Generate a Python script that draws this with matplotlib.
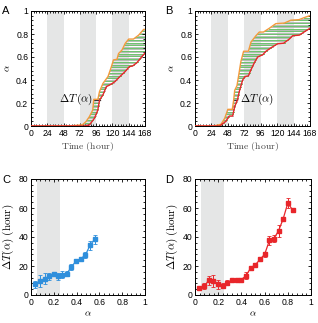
import numpy as np
import matplotlib
matplotlib.use("Agg")
import matplotlib.pyplot as plt
from matplotlib.ticker import MultipleLocator, FuncFormatter

plt.rcParams['font.family'] = ['Liberation Sans', 'DejaVu Sans']
plt.rcParams['mathtext.fontset'] = 'cm'

# ---- Data ----
# Panel A
a_orange_t = [0, 55, 72, 76, 81, 86, 91, 92.5, 98.5, 101, 106, 113.5, 118.5, 121.5, 126.7, 129, 134, 139, 144, 151, 158.6, 166, 168]
a_orange_y = [0, 0, 0.008, 0.012, 0.038, 0.081, 0.139, 0.232, 0.232, 0.30, 0.37, 0.43, 0.516, 0.575, 0.58, 0.63, 0.66, 0.72, 0.756, 0.756, 0.79, 0.84, 0.84]
a_red_t = [0, 78.5, 86, 93.5, 98.5, 101, 106, 111, 118.5, 123.5, 131, 138.5, 145, 150, 156, 163.6, 168]
a_red_y = [0, 0, 0.009, 0.067, 0.139, 0.226, 0.27, 0.342, 0.365, 0.385, 0.43, 0.472, 0.516, 0.523, 0.55, 0.605, 0.634]
# Panel B
b_orange_t = [0, 27, 38, 43.4, 46.8, 48, 54.5, 56.5, 58, 61.3, 63.8, 67, 71, 78, 81.8, 89, 94, 100, 108.6, 118, 130.5, 140, 152, 162, 168]
b_orange_y = [0, 0, 0.015, 0.067, 0.125, 0.145, 0.145, 0.226, 0.31, 0.35, 0.44, 0.56, 0.65, 0.65, 0.73, 0.785, 0.817, 0.817, 0.85, 0.89, 0.895, 0.92, 0.925, 0.948, 0.96]
b_red_t = [0, 36, 45, 50, 55, 58, 62, 64.7, 69.6, 73, 78, 81.8, 86.7, 91.5, 99, 103.7, 111, 120.7, 129.5, 137.8, 142.6, 152.4, 160, 168]
b_red_y = [0, 0, 0.04, 0.087, 0.087, 0.17, 0.226, 0.30, 0.40, 0.43, 0.436, 0.49, 0.55, 0.6, 0.62, 0.65, 0.68, 0.715, 0.72, 0.756, 0.785, 0.79, 0.82, 0.85]
night_spans = [(24, 48), (72, 96), (120, 144)]

# Panel C
c_alpha = [0.038, 0.081, 0.119, 0.16, 0.198, 0.235, 0.276, 0.314, 0.355, 0.395, 0.436, 0.477, 0.517, 0.558]
c_dt = [7.4, 9.7, 11.3, 13.0, 14.3, 13.0, 14.1, 14.8, 19.4, 23.4, 25.0, 27.5, 34.2, 38.4]
c_err = [2.5, 4, 4, 2.5, 1.5, 2.5, 2.5, 1.5, 2, 1.2, 1, 2, 3, 3]
# Panel D
d_alpha = [0.038, 0.081, 0.118, 0.159, 0.2, 0.24, 0.28, 0.318, 0.358, 0.399, 0.439, 0.48, 0.52, 0.56, 0.6, 0.642, 0.679, 0.72, 0.76, 0.8, 0.841]
d_dt = [4.6, 6.0, 10.2, 9.7, 7.4, 6.5, 8.6, 10.2, 10.6, 10.6, 13.2, 18.7, 20.8, 24.5, 28.0, 37.7, 38.8, 44.2, 52.5, 63.4, 58.7]
d_err = [1, 2, 3, 4, 3, 2, 1.5, 1, 1, 1, 2.5, 1.5, 1, 1, 2, 3, 2.5, 4, 1.5, 3.5, 1.5]
shade_alpha = (0.05, 0.25)

ORANGE = '#f39a3c'
RED = '#e8262a'
GREEN = '#62c062'
HGRAY = '#b3b8b3'
GRAY = '#e5e6e6'
BLUE = '#2f8fdc'

W, H = 318, 323
fig = plt.figure(figsize=(W/100, H/100), dpi=100)

def ax_at(x0, y0, x1, y1):
    return fig.add_axes([x0/W, 1 - y1/H, (x1-x0)/W, (y1-y0)/H])

def fmt(v, pos):
    return ('%.1f' % v).rstrip('0').rstrip('.')

def style(ax):
    ax.tick_params(which='both', direction='in', top=True, right=True, labelsize=6.2, pad=2, width=0.6)
    ax.tick_params(which='major', length=2.5)
    ax.tick_params(which='minor', length=1.3)
    for s in ax.spines.values():
        s.set_linewidth(0.7)

def inv(t, y, lv):
    t = np.asarray(t, float); y = np.asarray(y, float)
    yy = y + np.arange(len(y)) * 1e-9
    return np.interp(lv, yy, t)

def curves(ax, ot, oy, rt, ry, dtlevel, label_xy, line_t):
    for a, b in night_spans:
        ax.axvspan(a, b, color=GRAY, lw=0, zorder=0)
    levels = np.arange(0.006, 1.0, 0.012)
    top = oy[-1]
    for i, lv in enumerate(levels):
        if lv > top:
            continue
        t1 = inv(ot, oy, lv)
        t2 = inv(rt, ry, lv) if lv <= ry[-1] else 168
        col = GREEN if i % 2 == 0 else HGRAY
        ax.plot([t1, t2], [lv, lv], color=col, lw=0.65, zorder=1)
    ax.plot(line_t, [dtlevel, dtlevel], color='#333333', lw=0.9, zorder=2)
    ax.plot(ot, oy, color=ORANGE, lw=1.0, zorder=3)
    ax.plot(rt, ry, color=RED, lw=1.0, zorder=3)
    ax.text(label_xy[0], label_xy[1], r'$\mathbf{\Delta} T\,(\alpha)$', fontsize=8, zorder=4,
            ha=label_xy[2], va='center')
    ax.set_xlim(0, 168)
    ax.set_ylim(0, 1)
    ax.xaxis.set_major_locator(MultipleLocator(24))
    ax.xaxis.set_minor_locator(MultipleLocator(4))
    ax.yaxis.set_major_locator(MultipleLocator(0.2))
    ax.yaxis.set_minor_locator(MultipleLocator(0.04))
    ax.yaxis.set_major_formatter(FuncFormatter(fmt))
    ax.set_xlabel(r'$\mathrm{Time\ (hour)}$', fontsize=7, labelpad=1.5, color='#444444')
    ax.set_ylabel(r'$\alpha$', fontsize=7, labelpad=3)
    style(ax)

axA = ax_at(31, 11, 145, 126)
curves(axA, a_orange_t, a_orange_y, a_red_t, a_red_y, 0.229, (92, 0.235, 'right'), [93, 101])
axB = ax_at(195, 11, 310, 126)
curves(axB, b_orange_t, b_orange_y, b_red_t, b_red_y, 0.226, (66, 0.235, 'left'), [56.5, 62])

def errpanel(ax, x, y, e, color):
    ax.axvspan(*shade_alpha, color=GRAY, lw=0, zorder=0)
    ax.errorbar(x, y, yerr=e, color=color, marker='s', ms=2.3, lw=0.9, elinewidth=0.7,
                capsize=1.2, capthick=0.6, zorder=3)
    ax.set_xlim(0, 1)
    ax.set_ylim(0, 80)
    ax.xaxis.set_major_locator(MultipleLocator(0.2))
    ax.xaxis.set_minor_locator(MultipleLocator(0.04))
    ax.yaxis.set_major_locator(MultipleLocator(20))
    ax.yaxis.set_minor_locator(MultipleLocator(4))
    ax.xaxis.set_major_formatter(FuncFormatter(fmt))
    ax.set_xlabel(r'$\alpha$', fontsize=7, labelpad=1)
    ax.set_ylabel(r'$\mathbf{\Delta} T(\alpha)\ \mathrm{(hour)}$', fontsize=8, labelpad=2)
    style(ax)

axC = ax_at(31, 179, 145, 295)
errpanel(axC, c_alpha, c_dt, c_err, BLUE)
axD = ax_at(195, 179, 311, 295)
errpanel(axD, d_alpha, d_dt, d_err, RED)

for lab, x, y in [('A', 2, 11), ('B', 165, 11), ('C', 2, 180), ('D', 165, 180)]:
    fig.text(x/W, 1 - y/H, lab, fontsize=8, ha='left', va='center')

fig.savefig('out.png', dpi=100)
